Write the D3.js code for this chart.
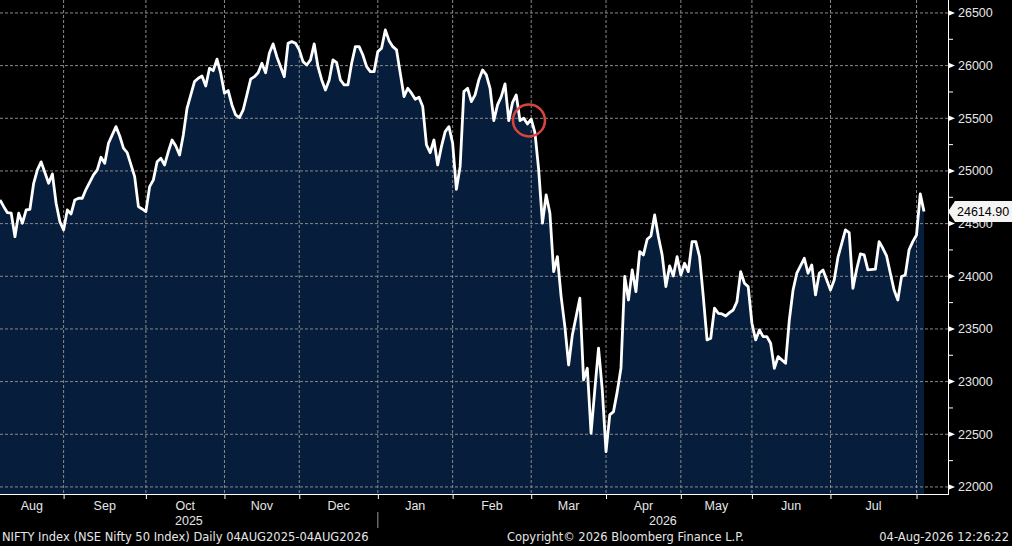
<!DOCTYPE html>
<html>
<head>
<meta charset="utf-8">
<script src="https://cdnjs.cloudflare.com/ajax/libs/d3/7.8.5/d3.min.js"></script>
<style>
    body { margin: 0; background: #000; }
    svg { display: block; font-family: "Liberation Sans", Arial, sans-serif; }
</style>
</head>
<body>
<div id="container"></div>
<script>
// trading-day number (0 = 04 Aug 2025) and NIFTY close
const tradeDay = [
    0, 1, 2, 3, 4, 5, 6, 7, 8, 9, 10, 11, 13, 14, 15, 16, 17, 18, 19, 20,
    21, 22, 23, 25, 26, 27, 28, 29, 31, 32, 33, 34, 36, 37, 38, 39, 40, 41, 42, 43,
    44, 45, 46, 47, 48, 49, 50, 51, 52, 53, 54, 55, 56, 57, 58, 59, 60, 61, 62, 63,
    64, 65, 66, 67, 68, 69, 70, 71, 72, 73, 74, 75, 76, 77, 78, 79, 80, 81, 82, 83,
    84, 85, 86, 87, 88, 89, 90, 91, 92, 93, 94, 95, 96, 97, 98, 99, 100, 101, 102, 103,
    104, 105, 106, 107, 108, 109, 110, 111, 112, 113, 114, 115, 116, 117, 118, 119, 120, 121, 122, 123,
    124, 125, 126, 127, 128, 129, 130, 131, 132, 133, 134, 135, 136, 137, 138, 139, 140, 141, 142, 143,
    144, 145, 146, 147, 148, 149, 150, 151, 152, 153, 155, 156, 157, 158, 159, 160, 161, 162, 163, 164,
    165, 166, 167, 168, 169, 170, 171, 172, 173, 174, 175, 176, 177, 178, 179, 180, 181, 182, 183, 184,
    185, 186, 187, 188, 189, 190, 191, 192, 193, 194, 195, 196, 197, 198, 199, 200, 201, 202, 203, 204,
    205, 206, 207, 208, 210, 211, 212, 213, 215, 216, 217, 218, 219, 220, 221, 222, 223, 224, 226, 227,
    228, 229, 230, 231, 232, 234, 235, 236, 237, 238, 239, 240, 241, 242, 243, 244, 245, 246, 247
];
const closeLevel = [
    24725, 24661, 24604, 24599, 24376, 24599, 24504, 24630, 24636, 24883, 25010, 25086, 24883, 24972, 24693, 24519, 24440, 24630, 24592, 24725,
    24741, 24741, 24826, 24962, 25010, 25130, 25073, 25263, 25421, 25332, 25216, 25174, 24946, 24661, 24639, 24614, 24851, 24915, 25088, 25121,
    25057, 25183, 25294, 25237, 25152, 25342, 25595, 25722, 25848, 25880, 25902, 25807, 25975, 25952, 26061, 25928, 25738, 25763, 25627, 25532,
    25506, 25579, 25722, 25871, 25895, 25933, 26023, 25933, 26118, 26206, 26085, 25990, 25895, 26212, 26228, 26212, 26149, 26038, 26006, 26054,
    26206, 25990, 25864, 25769, 25864, 26054, 26028, 25864, 25817, 25817, 26023, 26180, 26180, 26101, 25990, 25943, 25943, 26133, 26165, 26339,
    26237, 26180, 26149, 25928, 25706, 25785, 25738, 25681, 25700, 25611, 25247, 25174, 25294, 25057, 25231, 25373, 25421, 25263, 24826, 25041,
    25753, 25785, 25658, 25722, 25864, 25959, 25912, 25785, 25478, 25627, 25706, 25826, 25478, 25649, 25722, 25478, 25500, 25446, 25491, 25364,
    25010, 24504, 24772, 24599, 24044, 24186, 23807, 23522, 23158, 23443, 23792, 23016, 23127, 22510, 22921, 23317, 22921, 22335, 22684, 22715,
    22905, 23130, 23998, 23775, 24060, 23854, 24234, 24203, 24352, 24383, 24582, 24376, 24203, 23902, 24098, 24003, 24186, 24013, 24124, 24044,
    24329, 24329, 24186, 23807, 23396, 23412, 23697, 23649, 23642, 23623, 23655, 23680, 23759, 24044, 23934, 23902, 23554, 23396, 23491, 23427,
    23427, 23364, 23127, 23237, 23174, 23585, 23870, 24029, 24171, 24029, 24108, 23823, 24029, 24060, 23965, 23870, 23965, 24181, 24440, 24414,
    23886, 24067, 24212, 24203, 24060, 24067, 24329, 24266, 24193, 24029, 23870, 23775, 23997, 24013, 24250, 24329, 24392, 24782, 24614.90
];
const yTicks = [22000, 22500, 23000, 23500, 24000, 24500, 25000, 25500, 26000, 26500];
const yMinorTicks = [22250, 22750, 23250, 23750, 24250, 24750, 25250, 25750, 26250];
const monthStart = [17, 39, 60, 80, 101, 121, 142, 162, 182, 201, 222, 245];
const monthLabels = ["Aug", "Sep", "Oct", "Nov", "Dec", "Jan", "Feb", "Mar", "Apr", "May", "Jun", "Jul"];
const yearLabels = ["2025", "2026"];
const yearBreak = 101;
const markDay = 141.4;
const markLevel = 25480;

makeChart();

function makeChart(){
    const w = 1012;
    const h = 546;
    const plotRight = 948;
    const plotBottom = 494;
    const data = tradeDay.map((d, i) => ({day: d, close: closeLevel[i]}));
    const last = data[data.length - 1];

    const xScale = d3.scaleLinear()
          .domain([0, 247])
          .range([0, 924]);

    const yScale = d3.scaleLinear()
          .domain([21933, 26623])
          .range([plotBottom, 0]);

    let svg = d3.select("#container")
        .append("svg")
        .attr("width", w)
        .attr("height", h)
        .style("background", "#000");

    const area = d3.area()
          .x((d) => xScale(d.day))
          .y0(plotBottom)
          .y1((d) => yScale(d.close));

    const line = d3.line()
          .x((d) => xScale(d.day))
          .y((d) => yScale(d.close));

    svg.append("path")
        .datum(data)
        .attr("d", area)
        .attr("fill", "#061d3b");

    // dashed grid
    svg.append("g")
        .selectAll("line")
        .data(yTicks)
        .enter()
        .append("line")
        .attr("x1", 0)
        .attr("x2", plotRight)
        .attr("y1", (d) => yScale(d))
        .attr("y2", (d) => yScale(d))
        .attr("stroke", "#8a8a8a")
        .attr("stroke-width", 1)
        .attr("stroke-dasharray", "3,2");

    svg.append("g")
        .selectAll("line")
        .data(monthStart)
        .enter()
        .append("line")
        .attr("x1", (d) => xScale(d))
        .attr("x2", (d) => xScale(d))
        .attr("y1", 0)
        .attr("y2", plotBottom)
        .attr("stroke", "#8a8a8a")
        .attr("stroke-width", 1)
        .attr("stroke-dasharray", "3,2");

    svg.append("path")
        .datum(data)
        .attr("d", line)
        .attr("fill", "none")
        .attr("stroke", "#fff")
        .attr("stroke-width", 2.8)
        .attr("stroke-linejoin", "round");

    // annotation circle
    svg.append("circle")
        .attr("cx", xScale(markDay))
        .attr("cy", yScale(markLevel))
        .attr("r", 16)
        .attr("fill", "none")
        .attr("stroke", "#d9453c")
        .attr("stroke-width", 2.5);

    // axes
    svg.append("line")
        .attr("x1", 0).attr("x2", plotRight)
        .attr("y1", plotBottom + 0.5).attr("y2", plotBottom + 0.5)
        .attr("stroke", "#fff");

    svg.append("line")
        .attr("x1", plotRight + 0.5).attr("x2", plotRight + 0.5)
        .attr("y1", 0).attr("y2", plotBottom + 1)
        .attr("stroke", "#fff");

    const xAxis = d3.axisBottom(xScale)
          .tickValues(monthStart)
          .tickSize(5)
          .tickFormat("");

    svg.append("g")
        .attr("id", "x-axis")
        .attr("transform", "translate(0," + plotBottom + ")")
        .call(xAxis)
        .call((g) => g.select(".domain").remove())
        .call((g) => g.selectAll("line").attr("stroke", "#fff"));

    svg.append("g")
        .selectAll("text")
        .data(monthLabels)
        .enter()
        .append("text")
        .attr("x", (d, i) => xScale(((i == 0 ? 0 : monthStart[i - 1]) + monthStart[i]) / 2))
        .attr("y", 510)
        .attr("text-anchor", "middle")
        .attr("fill", "#e6e6e6")
        .style("font-size", "12.5px")
        .text((d) => d);

    const yearMid = [xScale(yearBreak) / 2, (xScale(yearBreak) + plotRight) / 2];
    svg.append("g")
        .selectAll("text")
        .data(yearLabels)
        .enter()
        .append("text")
        .attr("x", (d, i) => yearMid[i])
        .attr("y", 525)
        .attr("text-anchor", "middle")
        .attr("fill", "#e6e6e6")
        .style("font-size", "12.5px")
        .text((d) => d);

    svg.append("line")
        .attr("x1", xScale(yearBreak)).attr("x2", xScale(yearBreak))
        .attr("y1", 512).attr("y2", 528)
        .attr("stroke", "#9a9a9a");

    const yAxis = d3.axisRight(yScale)
          .tickValues(yTicks)
          .tickSize(0)
          .tickPadding(10)
          .tickFormat(d3.format("d"));

    svg.append("g")
        .attr("id", "y-axis")
        .attr("transform", "translate(" + plotRight + ",0)")
        .call(yAxis)
        .call((g) => g.select(".domain").remove())
        .call((g) => g.selectAll("text")
              .attr("fill", "#e6e6e6")
              .style("font-size", "12.5px")
              .style("font-family", "'Liberation Sans', Arial, sans-serif"));

    svg.append("g")
        .selectAll("path")
        .data(yTicks)
        .enter()
        .append("path")
        .attr("d", (d) => "M" + plotRight + "," + (yScale(d) - 3) + "L" + (plotRight + 7) + "," + yScale(d) + "L" + plotRight + "," + (yScale(d) + 3) + "Z")
        .attr("fill", "#fff");

    svg.append("g")
        .selectAll("line")
        .data(yMinorTicks)
        .enter()
        .append("line")
        .attr("x1", plotRight)
        .attr("x2", plotRight + 5)
        .attr("y1", (d) => yScale(d))
        .attr("y2", (d) => yScale(d))
        .attr("stroke", "#fff");

    // last value tag
    const tag = svg.append("g")
          .attr("transform", "translate(" + plotRight + "," + yScale(last.close) + ")");

    tag.append("path")
        .attr("d", "M0,0L7,-10.5L64,-10.5L64,10.5L7,10.5Z")
        .attr("fill", "#f4f4f4");

    tag.append("text")
        .attr("x", 9)
        .attr("dy", "0.35em")
        .attr("fill", "#000")
        .style("font-size", "12.5px")
        .text(d3.format(".2f")(last.close));

    // footer
    const footer = svg.append("g")
          .attr("fill", "#e6e6e6")
          .style("font-family", "'DejaVu Sans', sans-serif")
          .style("font-size", "11.5px");

    footer.append("text")
        .attr("x", 2)
        .attr("y", 541)
        .text("NIFTY Index (NSE Nifty 50 Index) Daily 04AUG2025-04AUG2026");

    footer.append("text")
        .attr("x", 507)
        .attr("y", 541)
        .text("Copyright\u00a9 2026 Bloomberg Finance L.P.");

    footer.append("text")
        .attr("x", 1009)
        .attr("y", 541)
        .attr("text-anchor", "end")
        .text("04-Aug-2026 12:26:22");
}
</script>
</body>
</html>
